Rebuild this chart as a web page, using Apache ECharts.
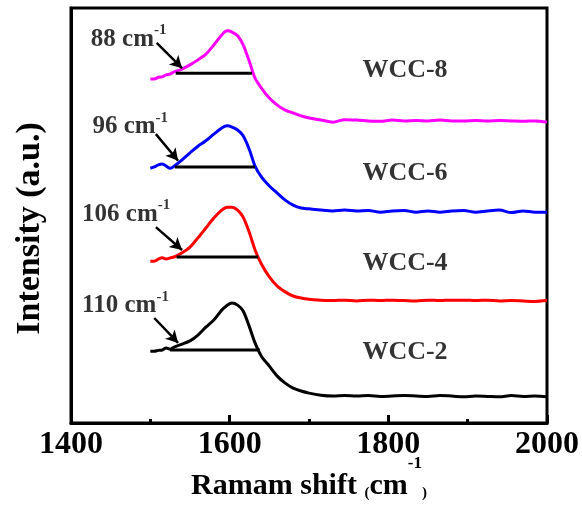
<!DOCTYPE html>
<html>
<head>
<meta charset="utf-8">
<script src="https://cdn.jsdelivr.net/npm/echarts@6/dist/echarts.min.js"></script>
<style>
  html, body { margin: 0; padding: 0; background: #fff; }
  #chart { width: 582px; height: 506px; }
</style>
</head>
<body>
<div id="chart"></div>
<script>
// Raman shift (cm-1), shared by all four spectra
const shift = [1500, 1505, 1510, 1515, 1520, 1525, 1530, 1540, 1550, 1560, 1570, 1580, 1590, 1597, 1603,
  1610, 1617, 1625, 1632, 1640, 1650, 1660, 1670, 1680, 1690, 1700, 1715, 1730, 1745, 1760, 1775, 1790,
  1805, 1820, 1835, 1850, 1865, 1880, 1895, 1910, 1925, 1940, 1955, 1970, 1985, 2000];

// intensities (stacked, a.u.)
const wcc2 = [17.3, 17.3, 17.5, 17.6, 18.1, 17.8, 18.3, 19.0, 19.8, 21.2, 23.1, 24.8, 27.2, 28.4, 28.9,
  28.4, 27.0, 23.1, 19.3, 16.1, 13.7, 11.3, 9.6, 8.4, 7.7, 7.2, 6.7, 6.5, 6.6, 6.5, 6.6, 6.4,
  6.5, 6.6, 6.5, 6.4, 6.6, 6.5, 6.3, 6.5, 6.4, 6.3, 6.6, 6.4, 6.5, 6.3];
const wcc4 = [39.0, 39.0, 39.5, 39.8, 39.5, 39.8, 40.0, 41.0, 42.4, 44.6, 47.0, 49.4, 51.3, 52.0, 52.0,
  51.3, 49.6, 45.8, 41.7, 38.3, 35.2, 33.0, 31.6, 30.6, 30.1, 29.8, 29.6, 29.5, 29.6, 29.4, 29.6, 29.5,
  29.6, 29.5, 29.4, 29.6, 29.5, 29.6, 29.6, 29.5, 29.6, 29.4, 29.5, 29.4, 29.3, 29.5];
const wcc6 = [61.4, 61.7, 62.2, 62.4, 61.9, 61.4, 61.9, 63.4, 65.1, 66.7, 68.0, 69.6, 71.1, 71.6, 71.3,
  70.6, 69.2, 65.8, 61.9, 59.3, 57.1, 55.4, 53.7, 52.5, 51.8, 51.6, 51.3, 51.1, 51.3, 51.1, 51.2, 50.8,
  51.1, 51.2, 50.8, 51.1, 50.8, 51.1, 51.2, 50.8, 51.1, 51.3, 50.7, 51.1, 50.8, 50.8];
const wcc8 = [82.9, 82.9, 83.3, 83.4, 83.9, 84.1, 84.6, 85.3, 86.3, 87.5, 88.9, 91.1, 93.5, 94.5, 94.2,
  93.3, 91.1, 87.0, 83.1, 80.7, 78.3, 76.6, 75.4, 74.7, 74.0, 73.5, 73.0, 72.5, 73.1, 73.0, 72.8, 72.7,
  73.0, 72.8, 72.9, 72.8, 73.0, 72.8, 72.8, 72.9, 72.8, 72.9, 72.8, 72.7, 72.8, 72.5];

const sampleNames = ["WCC-2", "WCC-4", "WCC-6", "WCC-8"];
const colors = ["#000000", "#ff0000", "#0000ff", "#ff00ff"];

// FWHM bars: [start, end] and height
const fwhmStart = [1525, 1533, 1531, 1532];
const fwhmEnd = [1638, 1636, 1632, 1628];
const fwhmLevel = [17.6, 40.0, 61.7, 84.3];
const fwhmText = ["110", "106", "96", "88"];

// arrow from label to curve
const arrowFrom = [[1505, 25.3], [1507, 47.2], [1507, 69.6], [1508, 91.6]];
const arrowTo = [[1535, 19.3], [1540, 41.7], [1535, 63.2], [1540, 85.5]];

// label anchors
const fwhmLabelPos = [[1414, 28.7], [1414, 50.8], [1427, 71.8], [1425, 93.0]];
const nameLabelPos = [[1821, 17.1], [1821, 38.6], [1821, 60.2], [1821, 85.1]];

const xTicks = [1400, 1600, 1800, 2000];

const FONT = "'Liberation Serif', 'Times New Roman', serif";

const chart = echarts.init(document.getElementById("chart"));

const spectra = [wcc2, wcc4, wcc6, wcc8];
const series = [];

spectra.forEach((vals, i) => {
  series.push({
    name: sampleNames[i],
    type: "line",
    data: shift.map((x, k) => [x, vals[k]]),
    showSymbol: false,
    smooth: 0.3,
    lineStyle: { color: colors[i], width: 3 },
    z: 3,
  });
  // FWHM bar + arrow
  series.push({
    type: "line",
    data: [[fwhmStart[i], fwhmLevel[i]], [fwhmEnd[i], fwhmLevel[i]]],
    showSymbol: false,
    lineStyle: { color: "#000", width: 3 },
    z: 4,
    markLine: {
      silent: true,
      symbol: ["none", "arrow"],
      symbolSize: [10, 12],
      label: { show: false },
      lineStyle: { color: "#000", width: 2.5, type: "solid" },
      data: [[{ coord: arrowFrom[i] }, { coord: arrowTo[i] }]],
    },
  });
});

// FWHM value labels
series.push({
  type: "scatter",
  symbolSize: 0,
  data: fwhmLabelPos.map((p, i) => ({ value: p, txt: fwhmText[i] })),
  label: {
    show: true,
    position: "right",
    distance: 0,
    formatter: (p) => "{a|" + p.data.txt + " cm}{b|-1}",
    rich: {
      a: { fontFamily: FONT, fontWeight: "bold", fontSize: 25, color: "#000", lineHeight: 29, verticalAlign: "bottom" },
      b: { fontFamily: FONT, fontWeight: "bold", fontSize: 15, color: "#000", lineHeight: 15, verticalAlign: "top" },
    },
  },
  z: 5,
});

// sample names
series.push({
  type: "scatter",
  symbolSize: 0,
  data: nameLabelPos.map((p, i) => ({ value: p, txt: sampleNames[i] })),
  label: {
    show: true,
    position: "inside",
    formatter: (p) => p.data.txt,
    fontFamily: FONT,
    fontWeight: "bold",
    fontSize: 26,
    color: "#000",
  },
  z: 5,
});

const option = {
  animation: false,
  grid: {
    left: 71,
    right: 35,
    top: 8,
    bottom: 83,
    outerBoundsMode: "none",
    show: true,
    borderColor: "#000",
    borderWidth: 3,
  },
  xAxis: {
    type: "value",
    min: 1400,
    max: 2000,
    interval: 200,
    name: "{a|Ramam shift }{p|(}{a|cm}{s|-1}{p|)}",
    nameLocation: "middle",
    nameGap: 32,
    nameMoveOverlap: false,
    nameTextStyle: {
      rich: {
        a: { fontFamily: FONT, fontWeight: "bold", fontSize: 30, color: "#000", lineHeight: 46, verticalAlign: "bottom" },
        p: { fontFamily: FONT, fontWeight: "bold", fontSize: 15, color: "#000", lineHeight: 18, verticalAlign: "bottom" },
        s: { fontFamily: FONT, fontWeight: "bold", fontSize: 17, color: "#000", lineHeight: 17, verticalAlign: "top" },
      },
    },
    axisLine: { show: true, lineStyle: { color: "#000", width: 3 } },
    axisTick: { show: true, inside: true, length: 8, lineStyle: { color: "#000", width: 3 } },
    minorTick: { show: true, splitNumber: 2, length: 4, lineStyle: { color: "#000", width: 3 } },
    axisLabel: {
      fontFamily: FONT,
      fontWeight: "bold",
      fontSize: 32,
      color: "#000",
      margin: 6,
      formatter: (v) => (xTicks.indexOf(v) >= 0 ? String(v) : ""),
    },
    splitLine: { show: false },
  },
  yAxis: {
    type: "value",
    min: 0,
    max: 100,
    name: "Intensity (a.u.)",
    nameLocation: "middle",
    nameGap: 24,
    nameMoveOverlap: false,
    nameTextStyle: {
      fontFamily: FONT,
      fontWeight: "bold",
      fontSize: 34,
      color: "#000",
      padding: [0, 26, 0, 0],
    },
    axisLine: { show: true, lineStyle: { color: "#000", width: 3 } },
    axisTick: { show: false },
    axisLabel: { show: false },
    splitLine: { show: false },
  },
  series: series,
};

chart.setOption(option);
</script>
</body>
</html>
